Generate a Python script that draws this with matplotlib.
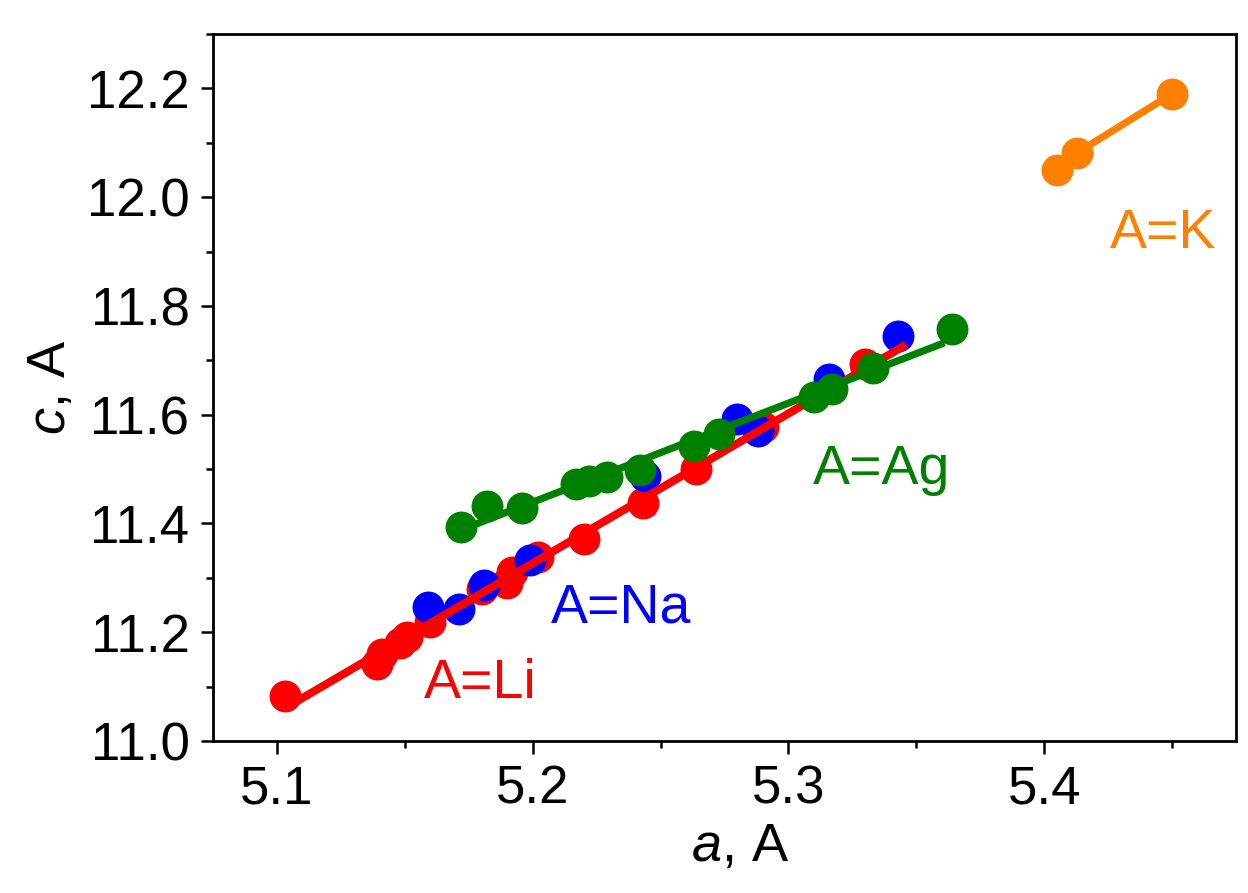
import numpy as np
import matplotlib
matplotlib.use('Agg')
import matplotlib.pyplot as plt
from matplotlib.ticker import MultipleLocator, FormatStrFormatter

plt.rcParams['font.family'] = ['Liberation Sans', 'DejaVu Sans']
plt.rcParams['mathtext.fontset'] = 'custom'
plt.rcParams['mathtext.it'] = 'Liberation Sans:italic'
plt.rcParams['mathtext.rm'] = 'Liberation Sans'

# lattice parameters
li_a = [5.103, 5.139, 5.141, 5.148, 5.151, 5.160, 5.180, 5.190, 5.192, 5.202,
        5.220, 5.243, 5.264, 5.290, 5.330]
li_c = [11.082, 11.142, 11.160, 11.180, 11.192, 11.218, 11.280, 11.290, 11.310, 11.338,
        11.372, 11.438, 11.500, 11.578, 11.694]
li_fit_a = [5.103, 5.346]

na_a = [5.159, 5.171, 5.181, 5.199, 5.244, 5.280, 5.288, 5.316, 5.343]
na_c = [11.246, 11.243, 11.287, 11.332, 11.487, 11.592, 11.570, 11.665, 11.745]

ag_a = [5.172, 5.182, 5.196, 5.217, 5.222, 5.229, 5.242, 5.263, 5.273, 5.310,
        5.317, 5.333, 5.364]
ag_c = [11.393, 11.433, 11.428, 11.472, 11.478, 11.486, 11.498, 11.543, 11.565, 11.633,
        11.648, 11.686, 11.758]
ag_fit_a = [5.176, 5.361]

k_a = [5.405, 5.413, 5.450]
k_c = [12.050, 12.082, 12.190]

labels = ['A=Li', 'A=Na', 'A=Ag', 'A=K']
label_a = [5.1793, 5.2346, 5.3365, 5.4465]
label_c = [11.079, 11.217, 11.472, 11.907]

RED = '#ff0000'
BLUE = '#0000ff'
GREEN = '#008000'
ORANGE = '#ff8000'

fig = plt.figure(figsize=(12.48, 8.93), dpi=100)
ax = fig.add_axes([0.1707, 0.1702, 0.8197, 0.7917])

ms = 23
ax.plot(li_a, li_c, 'o', color=RED, ms=ms, mew=0, zorder=2)
ax.plot(na_a, na_c, 'o', color=BLUE, ms=ms, mew=0, zorder=3)

li_p = np.polyfit(li_a, li_c, 1)
ax.plot(li_fit_a, np.polyval(li_p, li_fit_a), '-', color=RED, lw=5.8, zorder=4,
        solid_capstyle='butt')

ag_p = np.polyfit(ag_a, ag_c, 1)
ax.plot(ag_fit_a, np.polyval(ag_p, ag_fit_a), '-', color=GREEN, lw=5.2, zorder=5,
        solid_capstyle='butt')
ax.plot(ag_a, ag_c, 'o', color=GREEN, ms=ms, mew=0, zorder=5)

ax.plot(k_a, k_c, '-o', color=ORANGE, ms=ms, mew=0, lw=5.2, zorder=5)

colors = [RED, BLUE, GREEN, ORANGE]
for txt, x, y, col in zip(labels, label_a, label_c, colors):
    ax.text(x, y, txt, color=col, fontsize=40, ha='center', va='baseline', zorder=6)

ax.set_xlim(5.075, 5.475)
ax.set_ylim(11.0, 12.3)
ax.xaxis.set_major_locator(MultipleLocator(0.1))
ax.xaxis.set_minor_locator(MultipleLocator(0.05))
ax.yaxis.set_major_locator(MultipleLocator(0.2))
ax.yaxis.set_minor_locator(MultipleLocator(0.1))
ax.xaxis.set_major_formatter(FormatStrFormatter('%.1f'))
ax.yaxis.set_major_formatter(FormatStrFormatter('%.1f'))

for sp in ax.spines.values():
    sp.set_linewidth(2)
ax.tick_params(which='major', direction='out', length=9, width=1.8, labelsize=38, pad=8)
ax.tick_params(which='minor', direction='out', length=5, width=1.8)

ax.set_xlabel(r'$a$, A', fontsize=39, labelpad=4)
ax.xaxis.set_label_coords(0.515, -0.115)
ax.set_ylabel(r'$c$, A', fontsize=39, labelpad=8)

fig.savefig('out.png', dpi=100)
